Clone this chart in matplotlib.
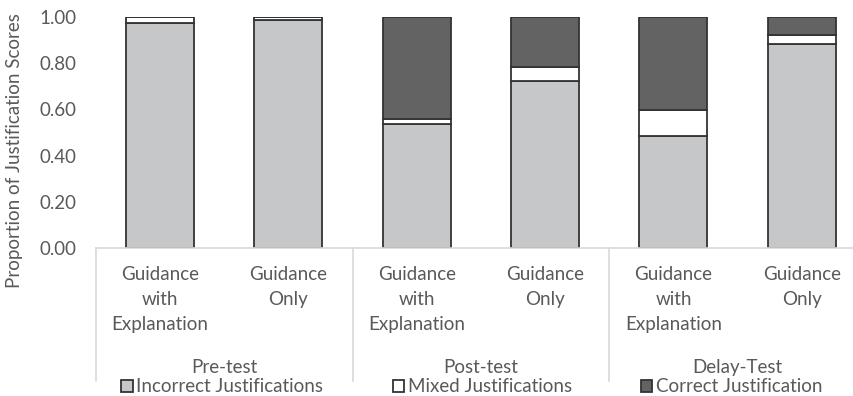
import matplotlib.pyplot as plt
import matplotlib.transforms as mtransforms
import numpy as np

plt.rcParams['font.family'] = ['Lato', 'DejaVu Sans']

phases = ["Pre-test", "Post-test", "Delay-Test"]
conditions = ["Guidance\nwith\nExplanation", "Guidance\nOnly"]
incorrect = [0.974, 0.987, 0.536, 0.725, 0.486, 0.885]
mixed = [0.026, 0.013, 0.024, 0.061, 0.112, 0.040]
correct = [0.000, 0.000, 0.440, 0.214, 0.402, 0.075]
series_names = ["Incorrect Justifications", "Mixed Justifications", "Correct Justification"]

text_col = "#595959"
grid_col = "#D9D9D9"
edge_col = "#333333"
fs = 13.5

fig = plt.figure(figsize=(8.54, 3.96), dpi=100)
ax = fig.add_axes([0.1121, 0.3745, 0.902, 0.5818])

x = np.arange(len(incorrect))
w = 0.53
inc = np.array(incorrect)
mix = np.array(mixed)
cor = np.array(correct)
ax.bar(x, inc, w, color="#C6C7C8", edgecolor=edge_col, linewidth=1.3, label=series_names[0])
ax.bar(x, mix, w, bottom=inc, color="white", edgecolor=edge_col, linewidth=1.3, label=series_names[1])
ax.bar(x, cor, w, bottom=inc + mix, color="#636363", edgecolor=edge_col, linewidth=1.3, label=series_names[2])

ax.set_xlim(-0.5, len(x) - 0.5)
ax.set_ylim(0, 1)
ax.set_yticks(np.arange(0, 1.01, 0.2))
ax.set_yticklabels([f"{v:.2f}" for v in np.arange(0, 1.01, 0.2)])
ax.tick_params(axis="y", length=0, pad=14, labelsize=fs, labelcolor=text_col)
ax.set_xticks([])
for s in ["top", "right", "left"]:
    ax.spines[s].set_visible(False)
ax.spines["bottom"].set_color(grid_col)
ax.spines["bottom"].set_linewidth(1.2)
ax.set_ylabel("Proportion of Justification Scores", fontsize=fs, color=text_col)
ax.yaxis.set_label_coords(-0.094, 0.42)

# two-level category axis below the bars
trans = mtransforms.blended_transform_factory(ax.transData, ax.transAxes)
for i in range(len(x)):
    ax.text(i, -0.08, conditions[i % 2], transform=trans, ha="center", va="top",
            fontsize=fs, color=text_col, linespacing=1.55)
for j, ph in enumerate(phases):
    ax.text(2 * j + 0.5, -0.485, ph, transform=trans, ha="center", va="top",
            fontsize=fs, color=text_col)
for k in range(len(phases) + 1):
    ax.plot([2 * k - 0.5, 2 * k - 0.5], [0, -0.58], transform=trans, color=grid_col,
            linewidth=1.2, clip_on=False)

fig.legend(loc="center", bbox_to_anchor=(472 / 854, 1 - 387 / 396), ncol=3, frameon=False,
           fontsize=fs, labelcolor=text_col, handlelength=0.6, handleheight=0.6,
           handletextpad=0.2, columnspacing=3.7, borderpad=0)

fig.savefig("out.png", dpi=100)
